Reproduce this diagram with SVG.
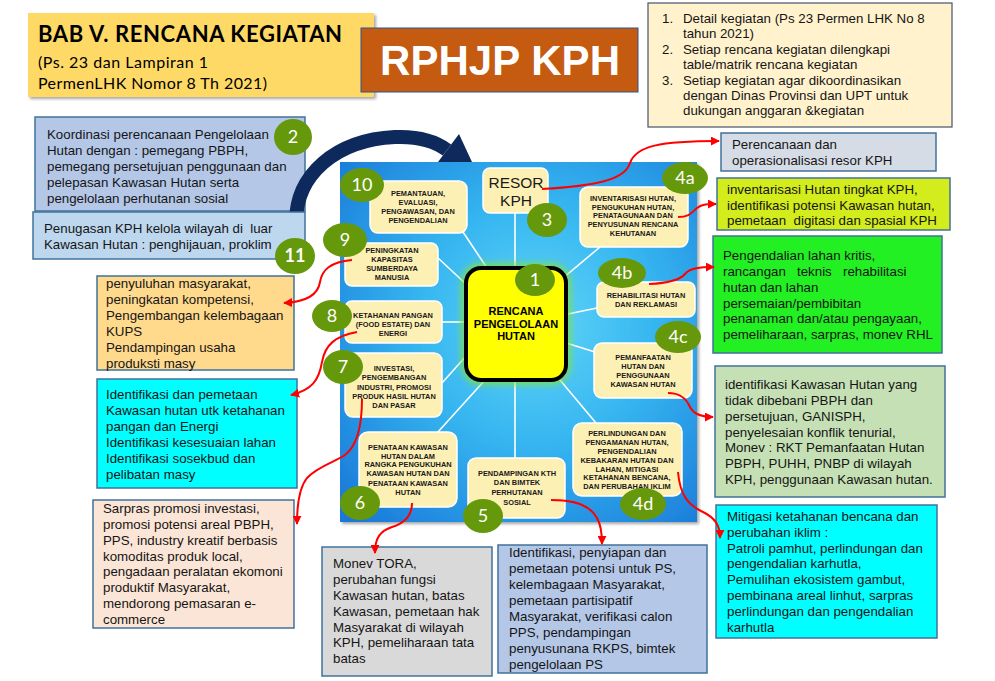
<svg xmlns="http://www.w3.org/2000/svg" width="995" height="681" viewBox="0 0 995 681">
<defs>
<radialGradient id="pg" cx="0.55" cy="0.45" r="0.75">
<stop offset="0" stop-color="#62D6F8"/>
<stop offset="0.45" stop-color="#35B5F0"/>
<stop offset="1" stop-color="#1A78D8"/>
</radialGradient>
<marker id="ah" viewBox="0 0 10 10" refX="9" refY="5" markerWidth="9" markerHeight="9" markerUnits="userSpaceOnUse" orient="auto"><path d="M0,0 L10,5 L0,10 z" fill="#FF0000"/></marker>
<filter id="sh" x="-5%" y="-5%" width="115%" height="120%"><feDropShadow dx="2" dy="2" stdDeviation="1.5" flood-color="#000" flood-opacity="0.35"/></filter>
<filter id="glow" x="-20%" y="-20%" width="140%" height="140%"><feGaussianBlur stdDeviation="3"/></filter>
</defs>
<style>
.t{font-family:"Liberation Sans",Arial,sans-serif;font-size:13.3px;fill:#151515}
.s{font-family:"Liberation Sans",Arial,sans-serif;font-size:7.4px;font-weight:bold;fill:#1a1a1a;text-anchor:middle}
.n{font-family:Lato,"Open Sans",sans-serif;font-size:18px;fill:#fff;text-anchor:middle}
.c{fill:#66980C}
.sb{fill:#FDF0B4;stroke:#FFFFFF;stroke-width:1.5}
.bx{stroke:#41719C;stroke-width:1.5}
.sp{stroke:#FFFFFF;stroke-width:1.6;fill:none}
.rc{stroke:#FF0000;stroke-width:2;fill:none;marker-end:url(#ah)}
</style>
<rect width="995" height="681" fill="#FFFFFF"/>

<g id="title">
<rect x="28" y="13" width="346" height="84" fill="#FFD966" filter="url(#sh)"/>
<text x="38" y="42" font-family="Lato,'Open Sans',sans-serif" font-size="22" font-weight="bold" fill="#000" textLength="304">BAB V. RENCANA KEGIATAN</text>
<text x="38" y="68" font-family="Lato,'Open Sans',sans-serif" font-size="16" fill="#000" textLength="170">(Ps. 23 dan Lampiran 1</text>
<text x="38" y="89" font-family="Lato,'Open Sans',sans-serif" font-size="16" fill="#000" textLength="229">PermenLHK Nomor 8 Th 2021)</text>
</g>

<g id="rphjp">
<rect x="361" y="28" width="277" height="64" fill="#C55A11" stroke="#2F5597" stroke-width="1"/>
<text x="500" y="75" font-family="'Liberation Sans',Arial,sans-serif" font-size="42" font-weight="bold" fill="#FFFFFF" text-anchor="middle" textLength="240">RPHJP KPH</text>
</g>

<g id="notes">
<rect x="648" y="3" width="304" height="124" fill="#FFF2CC" stroke="#44546A" stroke-width="1.2"/>
<text class="t" font-size="13">
<tspan x="662" y="23">1.</tspan><tspan x="683" y="23">Detail kegiatan (Ps 23 Permen LHK No 8</tspan>
<tspan x="683" y="38">tahun 2021)</tspan>
<tspan x="662" y="54">2.</tspan><tspan x="683" y="54">Setiap rencana kegiatan dilengkapi</tspan>
<tspan x="683" y="69">table/matrik rencana kegiatan</tspan>
<tspan x="662" y="85">3.</tspan><tspan x="683" y="85">Setiap kegiatan agar dikoordinasikan</tspan>
<tspan x="683" y="100">dengan Dinas Provinsi dan UPT untuk</tspan>
<tspan x="683" y="115">dukungan anggaran &amp;kegiatan</tspan>
</text>
</g>

<g id="koordinasi">
<rect class="bx" x="35" y="117" width="270" height="94" fill="#B4C7E7"/>
<text class="t">
<tspan x="47" y="139">Koordinasi perencanaan Pengelolaan</tspan>
<tspan x="47" y="155">Hutan dengan : pemegang PBPH,</tspan>
<tspan x="47" y="171">pemegang persetujuan penggunaan dan</tspan>
<tspan x="47" y="187">pelepasan Kawasan Hutan serta</tspan>
<tspan x="47" y="203">pengelolaan perhutanan sosial</tspan>
</text>
</g>

<g id="navy-arrow">
<path d="M296,222 C296,175 335,140 395,137 C420,136 435,141 447,150" fill="none" stroke="#0E2A5C" stroke-width="14"/>
<polygon points="435,166 459,134 478,175" fill="#0E2A5C"/>
</g>

<g id="penugasan">
<rect class="bx" x="33" y="212" width="272" height="47" fill="#BDD7EE"/>
<text class="t" xml:space="preserve"><tspan x="44" y="233">Penugasan KPH kelola wilayah di  luar</tspan><tspan x="44" y="249">Kawasan Hutan : penghijauan, proklim</tspan></text>
</g>

<g id="panel">
<rect x="340" y="162" width="357" height="360" fill="url(#pg)" filter="url(#sh)"/>
</g>

<g id="spokes">
<line class="sp" x1="463" y1="232" x2="487" y2="268"/>
<line class="sp" x1="515" y1="213" x2="515" y2="268"/>
<line class="sp" x1="600" y1="247" x2="563" y2="278"/>
<line class="sp" x1="438" y1="258" x2="467" y2="285"/>
<line class="sp" x1="442" y1="322" x2="466" y2="322"/>
<line class="sp" x1="442" y1="383" x2="467" y2="355"/>
<line class="sp" x1="563" y1="315" x2="597" y2="308"/>
<line class="sp" x1="563" y1="342" x2="595" y2="352"/>
<line class="sp" x1="437" y1="433" x2="485" y2="380"/>
<line class="sp" x1="515" y1="380" x2="515" y2="458"/>
<line class="sp" x1="560" y1="380" x2="596" y2="423"/>
</g>

<g id="n10">
<rect class="sb" x="370" y="181" width="97" height="52" rx="8"/>
<text class="s"><tspan x="418" y="196">PEMANTAUAN,</tspan><tspan x="418" y="205">EVALUASI,</tspan><tspan x="418" y="214">PENGAWASAN, DAN</tspan><tspan x="418" y="223">PENGENDALIAN</tspan></text>
</g>
<g id="resor">
<rect class="sb" x="483" y="168" width="65" height="45" rx="7"/>
<text x="516" y="188" font-family="'Liberation Sans',Arial,sans-serif" font-size="15.5" fill="#1a1a1a" text-anchor="middle">RESOR</text>
<text x="516" y="206" font-family="'Liberation Sans',Arial,sans-serif" font-size="15.5" fill="#1a1a1a" text-anchor="middle">KPH</text>
</g>
<g id="n4a">
<rect class="sb" x="580" y="187" width="108" height="60" rx="8"/>
<text class="s"><tspan x="633" y="201">INVENTARISASI HUTAN,</tspan><tspan x="633" y="210">PENGUKUHAN HUTAN,</tspan><tspan x="633" y="218">PENATAGUNAAN DAN</tspan><tspan x="633" y="227">PENYUSUNAN RENCANA</tspan><tspan x="633" y="236">KEHUTANAN</tspan></text>
</g>
<g id="n9">
<rect class="sb" x="345" y="243" width="93" height="43" rx="7"/>
<text class="s"><tspan x="392" y="253">PENINGKATAN</tspan><tspan x="392" y="262">KAPASITAS</tspan><tspan x="392" y="271">SUMBERDAYA</tspan><tspan x="392" y="280">MANUSIA</tspan></text>
</g>
<g id="n4b">
<rect class="sb" x="597" y="282" width="98" height="35" rx="7"/>
<text class="s"><tspan x="646" y="298">REHABILITASI HUTAN</tspan><tspan x="646" y="307">DAN REKLAMASI</tspan></text>
</g>
<g id="n8">
<rect class="sb" x="345" y="301" width="97" height="42" rx="7"/>
<text class="s"><tspan x="393" y="318">KETAHANAN PANGAN</tspan><tspan x="393" y="327">(FOOD ESTATE) DAN</tspan><tspan x="393" y="336">ENERGI</tspan></text>
</g>
<g id="n4c">
<rect class="sb" x="594" y="343" width="98" height="55" rx="8"/>
<text class="s"><tspan x="643" y="360">PEMANFAATAN</tspan><tspan x="643" y="369">HUTAN DAN</tspan><tspan x="643" y="378">PENGGUNAAN</tspan><tspan x="643" y="387">KAWASAN HUTAN</tspan></text>
</g>
<g id="n7">
<rect class="sb" x="345" y="353" width="97" height="64" rx="8"/>
<text class="s"><tspan x="394" y="371">INVESTASI,</tspan><tspan x="394" y="380">PENGEMBANGAN</tspan><tspan x="394" y="390">INDUSTRI, PROMOSI</tspan><tspan x="394" y="399">PRODUK HASIL HUTAN</tspan><tspan x="394" y="408">DAN PASAR</tspan></text>
</g>
<g id="n4d">
<rect class="sb" x="573" y="423" width="109" height="73" rx="9"/>
<text class="s" font-size="7.1"><tspan x="627" y="436">PERLINDUNGAN DAN</tspan><tspan x="627" y="445">PENGAMANAN HUTAN,</tspan><tspan x="627" y="454">PENGENDALIAN</tspan><tspan x="627" y="463">KEBAKARAN HUTAN DAN</tspan><tspan x="627" y="472">LAHAN, MITIGASI</tspan><tspan x="627" y="480">KETAHANAN BENCANA,</tspan><tspan x="627" y="489">DAN PERUBAHAN IKLIM</tspan></text>
</g>
<g id="n6">
<rect class="sb" x="359" y="432" width="98" height="75" rx="9"/>
<text class="s" font-size="7.3"><tspan x="408" y="450">PENATAAN KAWASAN</tspan><tspan x="408" y="459">HUTAN DALAM</tspan><tspan x="408" y="467">RANGKA PENGUKUHAN</tspan><tspan x="408" y="476">KAWASAN HUTAN DAN</tspan><tspan x="408" y="486">PENATAAN KAWASAN</tspan><tspan x="408" y="495">HUTAN</tspan></text>
</g>
<g id="n5">
<rect class="sb" x="468" y="458" width="97" height="60" rx="8"/>
<text class="s" font-size="8"><tspan x="517" y="476">PENDAMPINGAN KTH</tspan><tspan x="517" y="485">DAN BIMTEK</tspan><tspan x="517" y="495">PERHUTANAN</tspan><tspan x="517" y="505">SOSIAL</tspan></text>
</g>

<g id="n1">
<rect x="466" y="268" width="100" height="112" rx="15" fill="none" stroke="#7FE040" stroke-width="10" opacity="0.8" filter="url(#glow)"/>
<rect x="466" y="268" width="100" height="112" rx="15" fill="#FFFF00" stroke="#000" stroke-width="4"/>
<text font-family="'Liberation Sans',Arial,sans-serif" font-size="11" font-weight="bold" fill="#000" text-anchor="middle"><tspan x="516" y="315">RENCANA</tspan><tspan x="516" y="327.5">PENGELOLAAN</tspan><tspan x="516" y="340">HUTAN</tspan></text>
</g>

<g id="badges">
<ellipse class="c" cx="535" cy="280" rx="20" ry="16"/><text class="n" x="535" y="286">1</text>
<ellipse class="c" cx="293" cy="137" rx="19" ry="18"/><text class="n" x="293" y="143">2</text>
<ellipse class="c" cx="547" cy="220" rx="20" ry="17"/><text class="n" x="547" y="226">3</text>
<ellipse class="c" cx="685" cy="178" rx="23" ry="16"/><text class="n" x="685" y="184" font-size="17">4a</text>
<ellipse class="c" cx="622" cy="273" rx="24" ry="15"/><text class="n" x="622" y="279" font-size="17">4b</text>
<ellipse class="c" cx="678" cy="337" rx="23" ry="16"/><text class="n" x="678" y="343" font-size="17">4c</text>
<ellipse class="c" cx="643" cy="504" rx="23" ry="16"/><text class="n" x="643" y="510" font-size="17">4d</text>
<ellipse class="c" cx="483" cy="516" rx="20" ry="17"/><text class="n" x="483" y="522">5</text>
<ellipse class="c" cx="360" cy="503" rx="20" ry="17"/><text class="n" x="360" y="509">6</text>
<ellipse class="c" cx="343" cy="367" rx="20" ry="17"/><text class="n" x="343" y="373">7</text>
<ellipse class="c" cx="332" cy="316" rx="20" ry="16"/><text class="n" x="332" y="322">8</text>
<ellipse class="c" cx="345" cy="240" rx="22" ry="17"/><text class="n" x="345" y="246">9</text>
<ellipse class="c" cx="362" cy="185" rx="22" ry="17"/><text class="n" x="362" y="191">10</text>
<ellipse class="c" cx="295" cy="256" rx="20" ry="18"/><text class="n" x="295" y="262" font-weight="bold" font-size="16">11</text>
</g>

<g id="perencanaan">
<rect class="bx" x="721" y="133" width="215" height="38" fill="#D6DCE5"/>
<text class="t"><tspan x="732" y="149">Perencanaan dan</tspan><tspan x="732" y="165">operasionalisasi resor KPH</tspan></text>
</g>
<g id="inventarisasi">
<rect class="bx" x="717" y="178" width="233" height="52" fill="#D2EC1C"/>
<text class="t" xml:space="preserve"><tspan x="727" y="194">inventarisasi Hutan tingkat KPH,</tspan><tspan x="727" y="210">identifikasi potensi Kawasan hutan,</tspan><tspan x="727" y="225">pemetaan  digitasi dan spasial KPH</tspan></text>
</g>
<g id="rhl">
<rect class="bx" x="713" y="236" width="229" height="117" fill="#22F022"/>
<text class="t"><tspan x="723" y="260">Pengendalian lahan kritis,</tspan><tspan x="723" y="276">rancangan</tspan><tspan x="797" y="276">teknis</tspan><tspan x="843" y="276">rehabilitasi</tspan><tspan x="723" y="292">hutan dan lahan</tspan><tspan x="723" y="308">persemaian/pembibitan</tspan><tspan x="723" y="323">penanaman dan/atau pengayaan,</tspan><tspan x="723" y="339">pemeliharaan, sarpras, monev RHL</tspan></text>
</g>
<g id="pemanfaatan">
<rect class="bx" x="715" y="366" width="230" height="131" fill="#C5E0B4"/>
<text class="t"><tspan x="725" y="389">identifikasi Kawasan Hutan yang</tspan><tspan x="725" y="405">tidak dibebani PBPH dan</tspan><tspan x="725" y="421">persetujuan, GANISPH,</tspan><tspan x="725" y="437">penyelesaian konflik tenurial,</tspan><tspan x="725" y="452">Monev : RKT Pemanfaatan Hutan</tspan><tspan x="725" y="468">PBPH, PUHH, PNBP di wilayah</tspan><tspan x="725" y="484">KPH, penggunaan Kawasan hutan.</tspan></text>
</g>
<g id="mitigasi">
<rect class="bx" x="716" y="505" width="221" height="133" fill="#00FFFF"/>
<text class="t"><tspan x="727" y="521">Mitigasi ketahanan bencana dan</tspan><tspan x="727" y="537">perubahan iklim :</tspan><tspan x="727" y="553">Patroli pamhut, perlindungan dan</tspan><tspan x="727" y="568">pengendalian karhutla,</tspan><tspan x="727" y="584">Pemulihan ekosistem gambut,</tspan><tspan x="727" y="600">pembinana areal linhut, sarpras</tspan><tspan x="727" y="616">perlindungan dan pengendalian</tspan><tspan x="727" y="632">karhutla</tspan></text>
</g>
<g id="ps">
<rect class="bx" x="498" y="545" width="209" height="128" fill="#B4C7E7"/>
<text class="t"><tspan x="509" y="557">Identifikasi, penyiapan dan</tspan><tspan x="509" y="573">pemetaan potensi untuk PS,</tspan><tspan x="509" y="589">kelembagaan Masyarakat,</tspan><tspan x="509" y="605">pemetaan partisipatif</tspan><tspan x="509" y="621">Masyarakat, verifikasi calon</tspan><tspan x="509" y="637">PPS, pendampingan</tspan><tspan x="509" y="653">penyusunana RKPS, bimtek</tspan><tspan x="509" y="669">pengelolaan PS</tspan></text>
</g>
<g id="tora">
<rect class="bx" x="322" y="547" width="170" height="129" fill="#D9D9D9"/>
<text class="t"><tspan x="333" y="568">Monev TORA,</tspan><tspan x="333" y="584">perubahan fungsi</tspan><tspan x="333" y="600">Kawasan hutan, batas</tspan><tspan x="333" y="616">Kawasan, pemetaan hak</tspan><tspan x="333" y="632">Masyarakat di wilayah</tspan><tspan x="333" y="647">KPH, pemeliharaan tata</tspan><tspan x="333" y="663">batas</tspan></text>
</g>
<g id="sarpras">
<rect class="bx" x="93" y="500" width="201" height="128" fill="#FBE5D6"/>
<text class="t"><tspan x="103" y="513">Sarpras promosi investasi,</tspan><tspan x="103" y="529">promosi potensi areal PBPH,</tspan><tspan x="103" y="545">PPS, industry kreatif berbasis</tspan><tspan x="103" y="561">komoditas produk local,</tspan><tspan x="103" y="576">pengadaan peralatan ekomoni</tspan><tspan x="103" y="592">produktif Masyarakat,</tspan><tspan x="103" y="608">mendorong pemasaran e-</tspan><tspan x="103" y="624">commerce</tspan></text>
</g>
<g id="pangan">
<rect class="bx" x="97" y="379" width="200" height="109" fill="#00FFFF"/>
<text class="t"><tspan x="106" y="399">Identifikasi dan pemetaan</tspan><tspan x="106" y="415">Kawasan hutan utk ketahanan</tspan><tspan x="106" y="431">pangan dan Energi</tspan><tspan x="106" y="447">Identifikasi kesesuaian lahan</tspan><tspan x="106" y="463">Identifikasi sosekbud dan</tspan><tspan x="106" y="479">pelibatan masy</tspan></text>
</g>
<g id="penyuluhan">
<rect class="bx" x="97" y="276" width="197" height="94" fill="#FFD98C"/>
<text class="t"><tspan x="106" y="288">penyuluhan masyarakat,</tspan><tspan x="106" y="304">peningkatan kompetensi,</tspan><tspan x="106" y="320">Pengembangan kelembagaan</tspan><tspan x="106" y="336">KUPS</tspan><tspan x="106" y="352">Pendampingan usaha</tspan><tspan x="106" y="368">produksti masy</tspan></text>
</g>

<g id="connectors">
<path class="rc" d="M542,189 C595,186 625,180 630,163 C636,146 660,141 719,141"/>
<path class="rc" d="M678,217 C690,217 692,212 697,208 C702,204 708,204 716,204"/>
<path class="rc" d="M649,284 C670,283 680,280 685,274 C690,268 700,267 714,267"/>
<path class="rc" d="M668,393 C680,393 686,398 690,407 C694,415 702,417 713,417"/>
<path class="rc" d="M678,472 C680,495 688,505 703,512 C715,518 720,525 720,538"/>
<path class="rc" d="M551,500 C575,500 590,505 597,518 C601,525 602,532 602,544"/>
<path class="rc" d="M412,503 C412,515 405,523 392,527 C380,531 375,538 375,553"/>
<path class="rc" d="M362,399 C362,425 358,445 345,455 C335,462 318,466 307,478 C299,488 297,505 297,524"/>
<path class="rc" d="M357,332 C335,336 325,345 322,362 C319,380 312,390 291,395"/>
<path class="rc" d="M352,260 C330,262 322,270 320,282 C318,295 305,302 284,303"/>
</g>
</svg>
